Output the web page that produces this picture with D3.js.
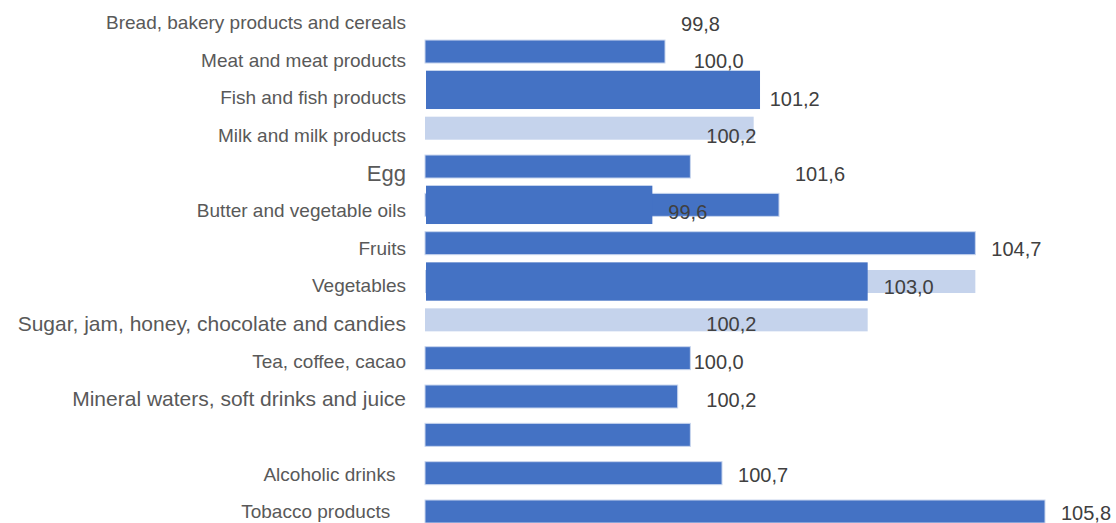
<!DOCTYPE html>
<html>
<head>
<meta charset="utf-8">
<style>
body { margin: 0; background: #fff; }
.cat { font-family: "Liberation Sans", Arial, sans-serif; fill: #595959; white-space: pre; }
.val { font-family: "Liberation Sans", Arial, sans-serif; fill: #404040; font-size: 20px; }
</style>
<title>Food price indices</title>
</head>
<body>
<svg width="1116" height="523"></svg>
<script src="https://d3js.org/d3.v7.min.js"></script>
<script>
// data
var categories = [
  "Bread, bakery products and cereals",
  "Meat and meat products",
  "Fish and fish products",
  "Milk and milk products",
  "Egg",
  "Butter and vegetable oils",
  "Fruits",
  "Vegetables",
  "Sugar, jam, honey, chocolate and candies",
  "Tea, coffee, cacao",
  "Mineral waters, soft drinks and juice",
  "",
  "Alcoholic drinks  ",
  "Tobacco products   "
];
var bigLabels = ["Egg", "Sugar, jam, honey, chocolate and candies", "Mineral waters, soft drinks and juice"];

var labelValues = [99.8, 100.0, 101.2, 100.2, 101.6, 99.6, 104.7, 103.0, 100.2, 100.0, 100.2, null, 100.7, 105.8];

// bars as they appear, dark, light and the thick dark ones
var darkSeries  = [null, 99.8, null, null, 100.2, 101.6, 104.7, null, null, 100.2, 100.0, 100.2, 100.7, 105.8];
var lightSeries = [null, null, null, 101.2, null, null, null, 104.7, 103.0, null, null, null, null, null];
var wideSeries  = [null, null, 101.3, null, null, 99.6, null, 103.0, null, null, null, null, null, null];

var svg = d3.select("svg");

var x = d3.scaleLinear()
  .domain([96.01, 105.8])
  .range([425, 1045]);

var rows = d3.range(categories.length);

// rows for labels and rows for bars
var yLab = d3.scalePoint().domain(rows).range([22.5, 511.5]);
var yBar = d3.scalePoint().domain(rows).range([13.2, 511.5]);
var step = yBar.step();

var fmt = function(v) { return d3.format(".1f")(v).replace(".", ","); };

function series(arr) {
  return arr.map(function(v, i) { return {row: i, value: v}; })
            .filter(function(d) { return d.value != null; });
}

// light bars behind
svg.append("g").selectAll("rect")
  .data(series(lightSeries))
  .enter().append("rect")
    .attr("x", x(x.domain()[0]))
    .attr("y", function(d) { return yBar(d.row) - step * 0.3; })
    .attr("width", function(d) { return x(d.value) - x(x.domain()[0]); })
    .attr("height", step * 0.6)
    .attr("fill", "#c5d3ec");

svg.append("g").selectAll("rect")
  .data(series(darkSeries))
  .enter().append("rect")
    .attr("x", x(x.domain()[0]))
    .attr("y", function(d) { return yBar(d.row) - step * 0.3; })
    .attr("width", function(d) { return x(d.value) - x(x.domain()[0]); })
    .attr("height", step * 0.6)
    .attr("fill", "#4472c4")
    .attr("stroke", "#c9d6ee")
    .attr("stroke-width", 1);

svg.append("g").selectAll("rect")
  .data(series(wideSeries))
  .enter().append("rect")
    .attr("x", x(x.domain()[0]) + 1)
    .attr("y", function(d) { return yBar(d.row) - step * 0.5; })
    .attr("width", function(d) { return x(d.value) - x(x.domain()[0]) - 1; })
    .attr("height", step)
    .attr("fill", "#4472c4");

// category labels
svg.append("g").selectAll("text")
  .data(rows)
  .enter().append("text")
    .attr("class", "cat")
    .attr("x", 406)
    .attr("y", function(i) { return yLab(i); })
    .attr("dy", "0.35em")
    .attr("text-anchor", "end")
    .attr("font-size", function(i) {
      if (categories[i] === "Egg") return "22px";
      return bigLabels.indexOf(categories[i]) >= 0 ? "21px" : "19px";
    })
    .text(function(i) { return categories[i]; });

// value labels
svg.append("g").selectAll("text")
  .data(series(labelValues))
  .enter().append("text")
    .attr("class", "val")
    .attr("x", function(d) { return x(d.value) + 16; })
    .attr("y", function(d) { return yLab(d.row) + 1; })
    .attr("dy", "0.35em")
    .text(function(d) { return fmt(d.value); });
</script>
</body>
</html>
